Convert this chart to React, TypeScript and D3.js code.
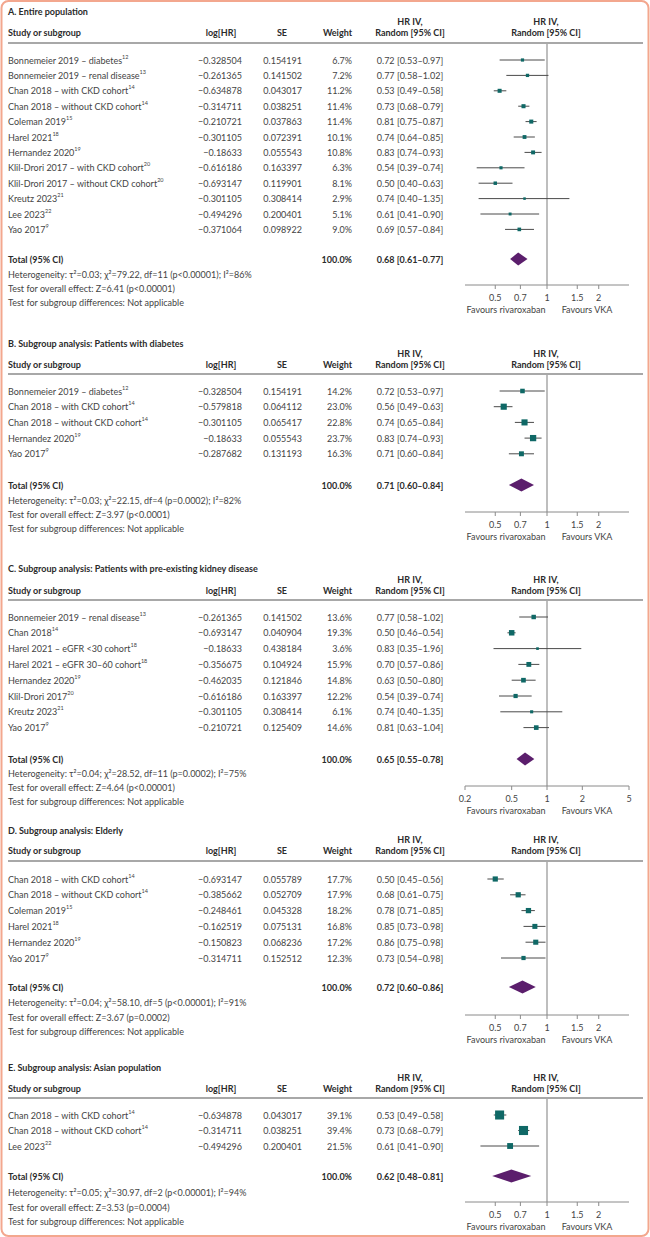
import React from "react";
import * as d3 from "d3";

const W = 650;
const H = 1237;
const FONT = "Lato, 'Open Sans', 'DejaVu Sans', sans-serif";
const TXT = "#444444";
const HEAD = "#2b2b2b";
const TEAL = "#0f6866";
const PURPLE = "#5b1e6c";
const LINEC = "#a8a8a8";
const FRAME = "#f3a78e";

// ---------- Panel A: Entire population ----------
const namesA = ["Bonnemeier 2019 – diabetes", "Bonnemeier 2019 – renal disease", "Chan 2018 – with CKD cohort", "Chan 2018 – without CKD cohort", "Coleman 2019", "Harel 2021", "Hernandez 2020", "Klil-Drori 2017 – with CKD cohort", "Klil-Drori 2017 – without CKD cohort", "Kreutz 2023", "Lee 2023", "Yao 2017"];
const supsA = ["12", "13", "14", "14", "15", "18", "19", "20", "20", "21", "22", "9"];
const logA = ["−0.328504", "−0.261365", "−0.634878", "−0.314711", "−0.210721", "−0.301105", "−0.18633", "−0.616186", "−0.693147", "−0.301105", "−0.494296", "−0.371064"];
const seA = ["0.154191", "0.141502", "0.043017", "0.038251", "0.037863", "0.072391", "0.055543", "0.163397", "0.119901", "0.308414", "0.200401", "0.098922"];
const weightA = [6.7, 7.2, 11.2, 11.4, 11.4, 10.1, 10.8, 6.3, 8.1, 2.9, 5.1, 9.0];
const hrA = [0.72, 0.77, 0.53, 0.73, 0.81, 0.74, 0.83, 0.54, 0.50, 0.74, 0.61, 0.69];
const loA = [0.53, 0.58, 0.49, 0.68, 0.75, 0.64, 0.74, 0.39, 0.40, 0.40, 0.41, 0.57];
const hiA = [0.97, 1.02, 0.58, 0.79, 0.87, 0.85, 0.93, 0.74, 0.63, 1.35, 0.90, 0.84];
const totalA = [0.68, 0.61, 0.77];
const statsA = ["Heterogeneity: τ²=0.03; χ²=79.22, df=11 (p<0.00001); I²=86%", "Test for overall effect: Z=6.41 (p<0.00001)", "Test for subgroup differences: Not applicable"];

// ---------- Panel B: Diabetes ----------
const namesB = ["Bonnemeier 2019 – diabetes", "Chan 2018 – with CKD cohort", "Chan 2018 – without CKD cohort", "Hernandez 2020", "Yao 2017"];
const supsB = ["12", "14", "14", "19", "9"];
const logB = ["−0.328504", "−0.579818", "−0.301105", "−0.18633", "−0.287682"];
const seB = ["0.154191", "0.064112", "0.065417", "0.055543", "0.131193"];
const weightB = [14.2, 23.0, 22.8, 23.7, 16.3];
const hrB = [0.72, 0.56, 0.74, 0.83, 0.71];
const loB = [0.53, 0.49, 0.65, 0.74, 0.60];
const hiB = [0.97, 0.63, 0.84, 0.93, 0.84];
const totalB = [0.71, 0.60, 0.84];
const statsB = ["Heterogeneity: τ²=0.03; χ²=22.15, df=4 (p=0.0002); I²=82%", "Test for overall effect: Z=3.97 (p<0.0001)", "Test for subgroup differences: Not applicable"];

// ---------- Panel C: Kidney disease ----------
const namesC = ["Bonnemeier 2019 – renal disease", "Chan 2018", "Harel 2021 – eGFR <30 cohort", "Harel 2021 – eGFR 30–60 cohort", "Hernandez 2020", "Klil-Drori 2017", "Kreutz 2023", "Yao 2017"];
const supsC = ["13", "14", "18", "18", "19", "20", "21", "9"];
const logC = ["−0.261365", "−0.693147", "−0.18633", "−0.356675", "−0.462035", "−0.616186", "−0.301105", "−0.210721"];
const seC = ["0.141502", "0.040904", "0.438184", "0.104924", "0.121846", "0.163397", "0.308414", "0.125409"];
const weightC = [13.6, 19.3, 3.6, 15.9, 14.8, 12.2, 6.1, 14.6];
const hrC = [0.77, 0.50, 0.83, 0.70, 0.63, 0.54, 0.74, 0.81];
const loC = [0.58, 0.46, 0.35, 0.57, 0.50, 0.39, 0.40, 0.63];
const hiC = [1.02, 0.54, 1.96, 0.86, 0.80, 0.74, 1.35, 1.04];
const totalC = [0.65, 0.55, 0.78];
const statsC = ["Heterogeneity: τ²=0.04; χ²=28.52, df=11 (p=0.0002); I²=75%", "Test for overall effect: Z=4.64 (p<0.00001)", "Test for subgroup differences: Not applicable"];

// ---------- Panel D: Elderly ----------
const namesD = ["Chan 2018 – with CKD cohort", "Chan 2018 – without CKD cohort", "Coleman 2019", "Harel 2021", "Hernandez 2020", "Yao 2017"];
const supsD = ["14", "14", "15", "18", "19", "9"];
const logD = ["−0.693147", "−0.385662", "−0.248461", "−0.162519", "−0.150823", "−0.314711"];
const seD = ["0.055789", "0.052709", "0.045328", "0.075131", "0.068236", "0.152512"];
const weightD = [17.7, 17.9, 18.2, 16.8, 17.2, 12.3];
const hrD = [0.50, 0.68, 0.78, 0.85, 0.86, 0.73];
const loD = [0.45, 0.61, 0.71, 0.73, 0.75, 0.54];
const hiD = [0.56, 0.75, 0.85, 0.98, 0.98, 0.98];
const totalD = [0.72, 0.60, 0.86];
const statsD = ["Heterogeneity: τ²=0.04; χ²=58.10, df=5 (p<0.00001); I²=91%", "Test for overall effect: Z=3.67 (p=0.0002)", "Test for subgroup differences: Not applicable"];

// ---------- Panel E: Asian population ----------
const namesE = ["Chan 2018 – with CKD cohort", "Chan 2018 – without CKD cohort", "Lee 2023"];
const supsE = ["14", "14", "22"];
const logE = ["−0.634878", "−0.314711", "−0.494296"];
const seE = ["0.043017", "0.038251", "0.200401"];
const weightE = [39.1, 39.4, 21.5];
const hrE = [0.53, 0.73, 0.61];
const loE = [0.49, 0.68, 0.41];
const hiE = [0.58, 0.79, 0.90];
const totalE = [0.62, 0.48, 0.81];
const statsE = ["Heterogeneity: τ²=0.05; χ²=30.97, df=2 (p<0.00001); I²=94%", "Test for overall effect: Z=3.53 (p=0.0004)", "Test for subgroup differences: Not applicable"];

const ticksStd = [0.5, 0.7, 1, 1.5, 2];
const ticksWide = [0.2, 0.5, 1, 2, 5];

const panels = [
  { title: "A. Entire population", names: namesA, sups: supsA, logs: logA, ses: seA, weights: weightA, hr: hrA, lo: loA, hi: hiA, total: totalA, stats: statsA, ticks: ticksStd, domain: [1 / 3, 3] },
  { title: "B. Subgroup analysis: Patients with diabetes", names: namesB, sups: supsB, logs: logB, ses: seB, weights: weightB, hr: hrB, lo: loB, hi: hiB, total: totalB, stats: statsB, ticks: ticksStd, domain: [1 / 3, 3] },
  { title: "C. Subgroup analysis: Patients with pre-existing kidney disease", names: namesC, sups: supsC, logs: logC, ses: seC, weights: weightC, hr: hrC, lo: loC, hi: hiC, total: totalC, stats: statsC, ticks: ticksWide, domain: [0.2, 5] },
  { title: "D. Subgroup analysis: Elderly", names: namesD, sups: supsD, logs: logD, ses: seD, weights: weightD, hr: hrD, lo: loD, hi: hiD, total: totalD, stats: statsD, ticks: ticksStd, domain: [1 / 3, 3] },
  { title: "E. Subgroup analysis: Asian population", names: namesE, sups: supsE, logs: logE, ses: seE, weights: weightE, hr: hrE, lo: loE, hi: hiE, total: totalE, stats: statsE, ticks: ticksStd, domain: [1 / 3, 3] },
];

// vertical layout per panel
const layouts = [
  { title: 11, header: 32, line: 43, row0: 60, step: 15.4, total: 259, stats: [274, 288, 302], axis: 285 },
  { title: 343, header: 364, line: 374, row0: 391, step: 15.7, total: 485, stats: [500, 514, 528], axis: 512 },
  { title: 568, header: 590, line: 600, row0: 617, step: 15.8, total: 759, stats: [773, 787, 801], axis: 786 },
  { title: 830, header: 850, line: 861, row0: 879, step: 15.8, total: 987, stats: [1002, 1017, 1031], axis: 1015 },
  { title: 1067, header: 1088, line: 1098, row0: 1115, step: 15.5, total: 1176, stats: [1192, 1207, 1221], axis: 1202 },
];

const COL = { study: 8, logR: 242, logH: 221, seR: 302, seH: 282, wR: 352, hrC: 410, plotC: 547, plotL: 465, plotR: 629, lineL: 8, lineR: 643 };

const fmt = d3.format(".2f");
const sizeScale = d3.scaleLinear().domain([0, 40]).range([2, 9.2]);

function Panel({ p, L }: { p: any; L: any }) {
  const x = d3.scaleLog().domain(p.domain).range([COL.plotL, COL.plotR]);
  const rows = p.names.map((_: string, i: number) => L.row0 + i * L.step);
  const ty = L.total;
  const dh = 6.5;
  const diamond = `M${x(p.total[1])},${ty} L${x(p.total[0])},${ty - dh} L${x(p.total[2])},${ty} L${x(p.total[0])},${ty + dh} Z`;
  const base = { fontFamily: FONT, fontSize: 9, dominantBaseline: "central" as any };
  return (
    <g>
      <text {...base} x={COL.study} y={L.title} fontWeight={700} fill={HEAD}>{p.title}</text>
      <text {...base} x={COL.study} y={L.header} fontWeight={700} fill={HEAD}>Study or subgroup</text>
      <text {...base} x={COL.logH} y={L.header} fontWeight={700} fill={HEAD} textAnchor="middle">log[HR]</text>
      <text {...base} x={COL.seH} y={L.header} fontWeight={700} fill={HEAD} textAnchor="middle">SE</text>
      <text {...base} x={COL.wR} y={L.header} fontWeight={700} fill={HEAD} textAnchor="end">Weight</text>
      <text {...base} x={COL.hrC} y={L.header - 11} fontWeight={700} fill={HEAD} textAnchor="middle">HR IV,</text>
      <text {...base} x={COL.hrC} y={L.header} fontWeight={700} fill={HEAD} textAnchor="middle">Random [95% CI]</text>
      <text {...base} x={COL.plotC - 1} y={L.header - 11} fontWeight={700} fill={HEAD} textAnchor="middle">HR IV,</text>
      <text {...base} x={COL.plotC - 1} y={L.header} fontWeight={700} fill={HEAD} textAnchor="middle">Random [95% CI]</text>
      <line x1={COL.lineL} x2={COL.lineR} y1={L.line} y2={L.line} stroke={LINEC} strokeWidth={2} />
      <line x1={x(1)} x2={x(1)} y1={L.line} y2={L.axis} stroke={LINEC} strokeWidth={1.5} />
      {p.names.map((n: string, i: number) => {
        const y = rows[i];
        const s = sizeScale(p.weights[i]);
        return (
          <g key={i}>
            <text {...base} x={COL.study} y={y} fill={TXT}>
              {n}
              <tspan fontSize={5.5} dy={-3.5}>{p.sups[i]}</tspan>
            </text>
            <text {...base} x={COL.logR} y={y} fill={TXT} textAnchor="end">{p.logs[i]}</text>
            <text {...base} x={COL.seR} y={y} fill={TXT} textAnchor="end">{p.ses[i]}</text>
            <text {...base} x={COL.wR} y={y} fill={TXT} textAnchor="end">{fmt(p.weights[i]).slice(0, -1)}%</text>
            <text {...base} x={COL.hrC} y={y} fill={TXT} textAnchor="middle">{`${fmt(p.hr[i])} [${fmt(p.lo[i])}–${fmt(p.hi[i])}]`}</text>
            <line x1={x(p.lo[i])} x2={x(p.hi[i])} y1={y} y2={y} stroke="#4a4a4a" strokeWidth={1} />
            <rect x={x(p.hr[i]) - s / 2} y={y - s / 2} width={s} height={s} fill={TEAL} />
          </g>
        );
      })}
      <text {...base} x={COL.study} y={ty} fontWeight={700} fill={HEAD}>Total (95% CI)</text>
      <text {...base} x={COL.wR} y={ty} fontWeight={700} fill={HEAD} textAnchor="end">100.0%</text>
      <text {...base} x={COL.hrC} y={ty} fontWeight={700} fill={HEAD} textAnchor="middle">{`${fmt(p.total[0])} [${fmt(p.total[1])}–${fmt(p.total[2])}]`}</text>
      <path d={diamond} fill={PURPLE} />
      {p.stats.map((s: string, i: number) => (
        <text key={i} {...base} x={COL.study} y={L.stats[i]} fill={TXT}>{s}</text>
      ))}
      <line x1={COL.plotL} x2={COL.plotR} y1={L.axis} y2={L.axis} stroke="#8a8a8a" strokeWidth={1} />
      {p.ticks.map((t: number) => (
        <g key={t}>
          <line x1={x(t)} x2={x(t)} y1={L.axis} y2={L.axis + 4} stroke="#8a8a8a" strokeWidth={1} />
          <text {...base} x={x(t)} y={L.axis + 12} fill={TXT} textAnchor="middle">{String(t)}</text>
        </g>
      ))}
      <text {...base} x={506} y={L.axis + 24} fill={TXT} textAnchor="middle">Favours rivaroxaban</text>
      <text {...base} x={587} y={L.axis + 24} fill={TXT} textAnchor="middle">Favours VKA</text>
    </g>
  );
}

export default function App() {
  return (
    <svg width={W} height={H} viewBox={`0 0 ${W} ${H}`} style={{ position: "absolute", left: 0, top: 0, background: "#fff" }}>
      <rect x={0} y={0} width={W} height={H} fill="#fff" />
      <rect x={1.5} y={1} width={W - 3} height={H - 2} rx={7} fill="none" stroke={FRAME} strokeWidth={2} />
      {panels.map((p, i) => (
        <Panel key={i} p={p} L={layouts[i]} />
      ))}
    </svg>
  );
}
